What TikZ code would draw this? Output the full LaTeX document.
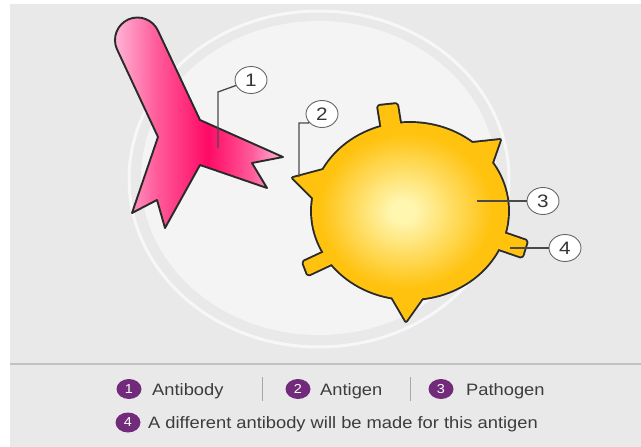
\documentclass[tikz,border=0pt]{standalone}
\usepackage{fontspec}
\setmainfont{Liberation Sans}
\newfontfamily\legfont[FakeStretch=1.11]{Liberation Sans}
\newfontfamily\tagfont[FakeStretch=1.15]{Liberation Sans}
\usetikzlibrary{shapes.geometric}

\definecolor{panelgray}{HTML}{E9E9E9}
\definecolor{discgray}{HTML}{F4F4F4}
\definecolor{ringgray}{HTML}{F7F7F7}
\definecolor{inkline}{HTML}{2A2A2A}
\definecolor{pinklight}{HTML}{FFBADB}
\definecolor{pinkmid}{HTML}{FF5C9A}
\definecolor{pinkdeep}{HTML}{FF0A66}
\definecolor{yellowedge}{HTML}{FFC20F}
\definecolor{yellowcore}{HTML}{FFF6B0}
\definecolor{leadgray}{HTML}{4A4A4A}
\definecolor{tagline}{HTML}{666666}
\definecolor{tagtext}{HTML}{363636}
\definecolor{keypurple}{HTML}{722A7B}
\definecolor{keygray}{HTML}{3C3C3C}
\definecolor{rulegray}{HTML}{C2C2C2}
\definecolor{bargray}{HTML}{A8A8A8}

% radial glow of the pathogen body
\pgfdeclareradialshading{germglow}{\pgfpoint{-2bp}{0bp}}{%
  color(0bp)=(yellowcore); color(3bp)=(yellowcore);
  color(22bp)=(yellowedge); color(50bp)=(yellowedge)}
% left-to-right tint of the antibody
\pgfdeclarehorizontalshading{antitint}{100bp}{%
  color(0bp)=(pinklight); color(25bp)=(pinklight); color(38bp)=(pinkmid);
  color(53bp)=(pinkdeep); color(66bp)=(pinkmid); color(75bp)=(pinklight);
  color(100bp)=(pinklight)}

\begin{document}
\begin{tikzpicture}[x=1pt,y=-1pt,
  callout/.style={ellipse, draw=tagline, line width=0.9pt, fill=white,
    minimum width=32pt, minimum height=27pt, inner sep=0pt, text=tagtext,
    font=\tagfont\fontsize{18}{18}\selectfont},
  leader/.style={draw=leadgray, line width=1.3pt},
  keydot/.style={ellipse, fill=keypurple, minimum width=25pt, minimum height=20pt,
    inner sep=0pt, text=white, font=\legfont\fontsize{13}{13}\selectfont},
  keytext/.style={anchor=base west, inner sep=0pt, text=keygray,
    font=\legfont\fontsize{16.5}{16.5}\selectfont},
  keybar/.style={draw=bargray, line width=0.8pt},
  bodyline/.style={draw=inkline, line width=3.8pt, line join=round},
  stub/.style={fill=yellowedge, preaction={bodyline}}]

\useasboundingbox (0,0) rectangle (641,447);
\fill[white] (0,0) rectangle (641,447);
\fill[panelgray] (10,4) rectangle (641,447);

% plate behind the scene
\fill[discgray] (319,178) ellipse [x radius=178, y radius=157];
\draw[ringgray, line width=3pt] (319,179) ellipse [x radius=190, y radius=168];

% antibody
\path[shading=antitint, draw=inkline, line width=1.9pt, line join=round]
  (158.05,30.85) arc[start angle=-24, end angle=-204, radius=22.5]
  -- (158,137) -- (132,213) -- (157,200) -- (165,228) -- (200,165)
  -- (267,188) -- (252,163) -- (283,157) -- (200,120) -- cycle;

% pathogen: outline pass, antigens, then the glowing body
\path[bodyline] (410,211) ellipse [x radius=98, y radius=88];
\path[stub, rounded corners=1.5pt] (378,106) -- (397,104) -- (402,135) -- (383,137) -- cycle;
\path[stub] (472,143) -- (500,140) -- (492,163) -- (470,165) -- cycle;
\path[stub] (323,170) -- (293,178) -- (313,198) -- (330,190) -- cycle;
\path[stub, rounded corners=1.5pt] (498,231) -- (527,241) -- (522,257) -- (493,247) -- cycle;
\path[stub, rounded corners=1.5pt] (333,248) -- (303,262) -- (308,275) -- (338,261) -- cycle;
\path[stub] (392,297) -- (406,321) -- (423,297) -- (408,285) -- cycle;
\path[shading=germglow] (410,211) ellipse [x radius=98, y radius=88];

% numbered callouts
\node[callout] (c1) at (251,80) {1};
\node[callout] (c2) at (322,114) {2};
\node[callout] (c3) at (543,201) {3};
\node[callout] (c4) at (565,248) {4};

\coordinate (t1) at (218,148); \coordinate (b1) at (218,92);
\coordinate (t2) at (299,177); \coordinate (b2) at (299,123);
\coordinate (t3) at (477,201);
\coordinate (t4) at (510,248);
\draw[leader] (t1) -- (b1) -- (c1.200);
\draw[leader] (t2) -- (b2) -- (c2.215);
\draw[leader] (t3) -- (c3.west);
\draw[leader] (t4) -- (c4.west);

% key
\draw[rulegray, line width=1.5pt] (10,364) -- (641,364);
\node[keydot] (k1) at (129,389) {1};
\node[keytext] (k1t) at (152,395) {Antibody};
\draw[keybar] (262,377) -- (262,401);
\node[keydot] (k2) at (298,389) {2};
\node[keytext] (k2t) at (320,395) {Antigen};
\draw[keybar] (410,377) -- (410,401);
\node[keydot] (k3) at (441,389) {3};
\node[keytext] (k3t) at (466,395) {Pathogen};
\node[keydot] (k4) at (128,422.5) {4};
\node[keytext] (k4t) at (148,428) {A different antibody will be made for this antigen};
\end{tikzpicture}
\end{document}
